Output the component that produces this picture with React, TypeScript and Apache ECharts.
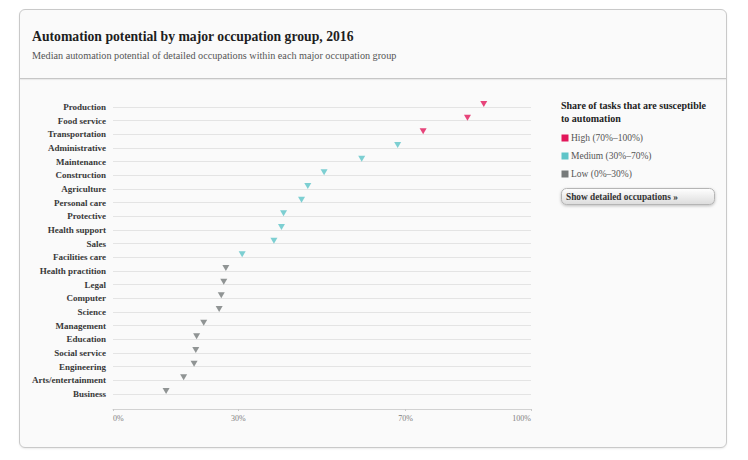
import React, { useEffect, useRef } from "react";
import * as echarts from "echarts";

const categories = [
  "Production", "Food service", "Transportation", "Administrative", "Maintenance",
  "Construction", "Agriculture", "Personal care", "Protective", "Health support",
  "Sales", "Facilities care", "Health practition", "Legal", "Computer", "Science",
  "Management", "Education", "Social service", "Engineering", "Arts/entertainment", "Business",
];
const potential = [
  88.7, 84.8, 74.2, 68.1, 59.5, 50.5, 46.6, 45.1, 40.8, 40.3, 38.5,
  30.9, 27.0, 26.5, 25.9, 25.4, 21.7, 20.0, 19.8, 19.4, 16.9, 12.7,
];
const xTicks = [0, 30, 70, 100];
const legendLabels = ["High (70%–100%)", "Medium (30%–70%)", "Low (0%–30%)"];
const levelColors = ["#e2175a", "#5ec4c8", "#767a7a"];

const TITLE = "Automation potential by major occupation group, 2016";
const SUBTITLE = "Median automation potential of detailed occupations within each major occupation group";
const SERIF = "'Liberation Serif', 'DejaVu Serif', serif";

function levelOf(v: number) {
  if (v >= 70) return 0;
  if (v >= 30) return 1;
  return 2;
}

export default function App() {
  const ref = useRef<HTMLDivElement>(null);
  useEffect(() => {
    if (!ref.current) return;
    const chart = echarts.init(ref.current, undefined, { renderer: "svg" });
    const legendEls: any[] = [];
    legendLabels.forEach((lab, i) => {
      const y = 138 + i * 18;
      legendEls.push({
        type: "rect",
        shape: { x: 561.5, y: y - 3.5, width: 7, height: 7 },
        style: { fill: levelColors[i] },
      });
      legendEls.push({
        type: "text",
        style: {
          text: lab, x: 571, y, fill: "#555", font: `9.5px ${SERIF}`,
          verticalAlign: "middle", textVerticalAlign: "middle",
        },
      });
    });
    chart.setOption({
      animation: false,
      grid: { left: 113, right: 217, top: 107, bottom: 66, containLabel: false },
      xAxis: {
        type: "value",
        min: 0,
        max: 100,
        offset: 15,
        axisLine: { show: true, lineStyle: { color: "#d2d2d2", width: 1 } },
        axisTick: { show: true, length: 2, customValues: xTicks, lineStyle: { color: "#c8c8c8" } },
        splitLine: { show: false },
        axisLabel: {
          customValues: xTicks,
          formatter: "{value}%",
          fontFamily: SERIF,
          fontSize: 8,
          color: "#808080",
          margin: 5,
          alignMinLabel: "left",
          alignMaxLabel: "right",
        },
      },
      yAxis: {
        type: "category",
        data: categories,
        inverse: true,
        boundaryGap: false,
        axisLine: { show: false },
        axisTick: { show: false },
        splitLine: { show: true, lineStyle: { color: "#e4e4e4", width: 1 } },
        axisLabel: {
          fontFamily: SERIF,
          fontWeight: "bold",
          fontSize: 9,
          color: "#383838",
          margin: 7,
        },
      },
      series: [
        {
          type: "scatter",
          symbol: "triangle",
          symbolRotate: 180,
          symbolSize: [7, 6],
          symbolOffset: [0, -3],
          data: potential.map((v, i) => ({
            value: [v, categories[i]],
            itemStyle: { color: levelColors[levelOf(v)] },
          })),
          z: 5,
        },
      ],
      graphic: [
        {
          type: "text",
          style: {
            text: TITLE, x: 32, y: 36, fill: "#1e1e1e", font: `bold 13.7px ${SERIF}`,
            verticalAlign: "middle", textVerticalAlign: "middle",
          },
        },
        {
          type: "text",
          style: {
            text: SUBTITLE, x: 32, y: 55, fill: "#555", font: `10.2px ${SERIF}`,
            verticalAlign: "middle", textVerticalAlign: "middle",
          },
        },
        {
          type: "text",
          style: {
            text: "Share of tasks that are susceptible\nto automation",
            x: 561, y: 98.5, fill: "#222", font: `bold 10px ${SERIF}`, lineHeight: 13,
            verticalAlign: "top", textVerticalAlign: "top",
          },
        },
        ...legendEls,
        {
          type: "rect",
          shape: { x: 561.5, y: 188.5, width: 153, height: 16, r: 5 },
          style: {
            fill: new echarts.graphic.LinearGradient(0, 0, 0, 1, [
              { offset: 0, color: "#ffffff" },
              { offset: 1, color: "#dcdcdc" },
            ]),
            stroke: "#b5b5b5",
            lineWidth: 1,
            shadowBlur: 3,
            shadowOffsetY: 1,
            shadowColor: "rgba(0,0,0,0.25)",
          },
        },
        {
          type: "text",
          style: {
            text: "Show detailed occupations »", x: 566, y: 196.5, fill: "#333",
            font: `bold 9.3px ${SERIF}`, verticalAlign: "middle", textVerticalAlign: "middle",
          },
        },
      ],
    });
    return () => chart.dispose();
  }, []);

  return (
    <div style={{ position: "absolute", left: 0, top: 0, width: 748, height: 460, background: "#ffffff" }}>
      <div
        style={{
          position: "absolute", left: 19, top: 9, width: 706, height: 437,
          border: "1px solid #c9c9c9", borderRadius: 6, background: "#fafafa",
          boxShadow: "0 1px 2px rgba(0,0,0,0.08)",
        }}
      />
      <div
        style={{
          position: "absolute", left: 20, top: 78, width: 706, height: 0,
          borderTop: "1px solid #c6c6c6", boxShadow: "0 1px 1px rgba(0,0,0,0.08)",
        }}
      />
      <div ref={ref} style={{ position: "absolute", left: 0, top: 0, width: 748, height: 460 }} />
    </div>
  );
}
